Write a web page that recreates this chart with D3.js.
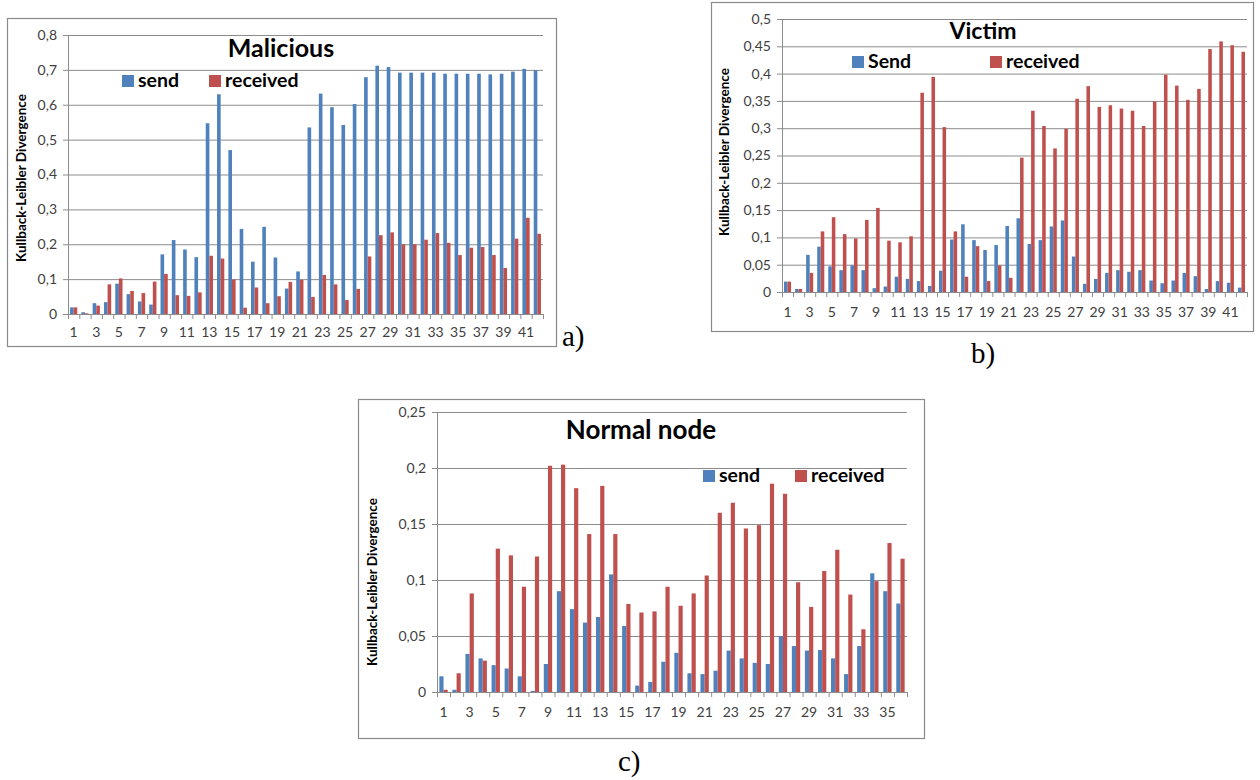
<!DOCTYPE html>
<html>
<head>
<meta charset="utf-8">
<script src="https://cdn.jsdelivr.net/npm/d3@7"></script>
<style>
  body { margin: 0; background: #fff; }
  text { font-family: Lato, "Open Sans", sans-serif; }
  .tick text { fill: #404040; font-size: 14px; }
  .tag { font-family: "Liberation Serif", "DejaVu Serif", serif; font-size: 29px; fill: #000; }
</style>
</head>
<body>
<svg id="fig" width="1260" height="780"></svg>
<script>
// values, one entry per time step
var malSend = [0.019,0.005,0.031,0.034,0.087,0.057,0.036,0.027,0.171,0.212,
               0.185,0.163,0.547,0.630,0.470,0.244,0.150,0.250,0.162,0.073,
               0.122,0.535,0.632,0.593,0.542,0.602,0.679,0.712,0.708,0.692,
               0.692,0.692,0.692,0.689,0.689,0.689,0.689,0.687,0.689,0.695,
               0.703,0.699];
var malRecv = [0.019,0.002,0.024,0.085,0.102,0.066,0.060,0.093,0.115,0.054,
               0.052,0.062,0.167,0.159,0.099,0.018,0.076,0.031,0.051,0.092,
               0.098,0.049,0.112,0.085,0.040,0.072,0.165,0.226,0.234,0.200,
               0.200,0.213,0.232,0.204,0.169,0.190,0.192,0.169,0.132,0.216,
               0.276,0.230];

var vicSend = [0.019,0.0055,0.068,0.083,0.047,0.040,0.049,0.040,0.007,0.010,
               0.028,0.024,0.020,0.011,0.039,0.096,0.124,0.095,0.077,0.086,
               0.121,0.135,0.088,0.095,0.120,0.131,0.065,0.015,0.024,0.035,
               0.040,0.037,0.040,0.021,0.016,0.021,0.035,0.029,0.0055,0.020,
               0.017,0.008];
var vicRecv = [0.019,0.0055,0.035,0.111,0.137,0.106,0.098,0.132,0.154,0.094,
               0.091,0.102,0.365,0.394,0.302,0.111,0.028,0.084,0.020,0.049,
               0.026,0.246,0.332,0.304,0.263,0.299,0.354,0.377,0.339,0.342,
               0.336,0.332,0.304,0.349,0.398,0.378,0.352,0.372,0.445,0.459,
               0.452,0.440];

var normSend = [0.014,0.002,0.034,0.030,0.024,0.021,0.014,0.001,0.025,0.090,
                0.074,0.062,0.067,0.105,0.059,0.0057,0.009,0.027,0.035,0.0167,
                0.016,0.019,0.037,0.030,0.026,0.025,0.050,0.041,0.037,0.0375,
                0.030,0.016,0.041,0.106,0.090,0.079];
var normRecv = [0.002,0.0167,0.088,0.028,0.128,0.122,0.094,0.121,0.202,0.203,
                0.182,0.141,0.184,0.141,0.0786,0.071,0.072,0.094,0.077,0.088,
                0.104,0.160,0.169,0.146,0.149,0.186,0.177,0.098,0.076,0.108,
                0.127,0.087,0.056,0.099,0.133,0.119];

var malTicks  = [0, 0.1, 0.2, 0.3, 0.4, 0.5, 0.6, 0.7, 0.8];
var vicTicks  = [0, 0.05, 0.1, 0.15, 0.2, 0.25, 0.3, 0.35, 0.4, 0.45, 0.5];
var normTicks = [0, 0.05, 0.1, 0.15, 0.2, 0.25];

var seriesKeys = ["send", "received"];
var colors = {send: "#4F81BD", received: "#C0504D"};
var yTitle = "Kullback-Leibler Divergence";

var svg = d3.select("#fig");
svg.append("rect").attr("width", 1260).attr("height", 780).attr("fill", "#fff");

var fmt = d3.formatLocale({decimal: ",", thousands: ".", grouping: [3], currency: ["", ""]}).format("~g");

function drawChart(c) {
  var g = svg.append("g");

  g.append("rect")
    .attr("x", c.box[0] + 0.5).attr("y", c.box[1] + 0.5)
    .attr("width", c.box[2]).attr("height", c.box[3])
    .attr("fill", "#fff").attr("stroke", "#8a8a8a").attr("stroke-width", 1.2);

  var n = c.send.length;
  var cats = d3.range(1, n + 1);
  var x = d3.scaleBand().domain(cats).range([c.left, c.right])
    .paddingInner(0.36).paddingOuter(0.18);
  var xs = d3.scaleBand().domain(seriesKeys).range([0, x.bandwidth()]);
  var xb = d3.scaleLinear().domain([0, n]).range([c.left, c.right]);
  var y = d3.scaleLinear().domain([0, c.max]).range([c.bottom, c.top]);

  // horizontal grid
  var grid = g.append("g")
    .attr("transform", "translate(" + c.left + ",0)")
    .call(d3.axisLeft(y).tickValues(c.ticks).tickSize(-(c.right - c.left)).tickFormat(""));
  grid.select(".domain").remove();
  grid.selectAll("line").attr("stroke", "#8c8c8c");

  // y axis
  var ya = g.append("g")
    .attr("transform", "translate(" + c.left + ",0)")
    .call(d3.axisLeft(y).tickValues(c.ticks).tickSize(5).tickPadding(6).tickFormat(fmt));
  ya.selectAll("line, .domain").attr("stroke", "#8c8c8c");

  // bars
  var rows = cats.map(function(k, i) { return {cat: k, send: c.send[i], received: c.recv[i]}; });
  g.append("g").selectAll("g")
    .data(rows)
    .enter().append("g")
    .attr("transform", function(d) { return "translate(" + x(d.cat) + ",0)"; })
    .selectAll("rect")
    .data(function(d) { return seriesKeys.map(function(k) { return {key: k, value: d[k]}; }); })
    .enter().append("rect")
    .attr("x", function(d) { return xs(d.key); })
    .attr("width", xs.bandwidth())
    .attr("y", function(d) { return y(d.value); })
    .attr("height", function(d) { return c.bottom - y(d.value); })
    .attr("fill", function(d) { return colors[d.key]; });

  // x axis: ticks between categories, labels on odd categories
  var xa = g.append("g")
    .attr("transform", "translate(0," + c.bottom + ")")
    .call(d3.axisBottom(xb).tickValues(d3.range(0, n + 1)).tickSize(5).tickFormat(""));
  xa.selectAll("line, .domain").attr("stroke", "#8c8c8c");

  var xl = g.append("g")
    .attr("transform", "translate(0," + c.bottom + ")")
    .call(d3.axisBottom(x).tickValues(cats.filter(function(k) { return k % 2 == 1; })).tickSize(0).tickPadding(c.xPad));
  xl.select(".domain").remove();

  // title
  g.append("text")
    .attr("x", c.titleX).attr("y", c.titleY)
    .attr("text-anchor", "middle")
    .style("font-size", c.titleSize + "px").style("font-weight", "bold")
    .text(c.title);

  // legend
  var lg = g.append("g").attr("transform", "translate(" + c.legX + "," + c.legY + ")");
  var labels = [c.sendLabel, "received"];
  seriesKeys.forEach(function(k, i) {
    var dx = i * c.legGap;
    lg.append("rect").attr("x", dx).attr("y", -12).attr("width", 12).attr("height", 12)
      .attr("fill", colors[k]);
    lg.append("text").attr("x", dx + 16).attr("y", 0)
      .style("font-size", "19.5px").style("font-weight", "bold")
      .text(labels[i]);
  });

  // y title
  g.append("text")
    .attr("transform", "translate(" + c.yTitleX + "," + c.yTitleY + ") rotate(-90)")
    .attr("text-anchor", "middle")
    .style("font-size", "13.5px").style("font-weight", "bold")
    .text(yTitle);

  // sub-figure tag
  g.append("text").attr("class", "tag")
    .attr("x", c.tagX).attr("y", c.tagY)
    .text(c.tag);
}

drawChart({
  box: [7, 18, 549, 328], left: 68, right: 543, top: 35, bottom: 314,
  max: 0.8, ticks: malTicks, send: malSend, recv: malRecv, xPad: 13,
  title: "Malicious", titleX: 281, titleY: 57, titleSize: 25,
  sendLabel: "send", legX: 122, legY: 87, legGap: 87,
  yTitleX: 26, yTitleY: 178, tag: "a)", tagX: 562, tagY: 346
});

drawChart({
  box: [711, 2, 542, 329], left: 782, right: 1247, top: 19, bottom: 292,
  max: 0.5, ticks: vicTicks, send: vicSend, recv: vicRecv, xPad: 15,
  title: "Victim", titleX: 983, titleY: 39, titleSize: 23,
  sendLabel: "Send", legX: 852, legY: 68, legGap: 138,
  yTitleX: 729, yTitleY: 152, tag: "b)", tagX: 971, tagY: 363
});

drawChart({
  box: [358, 399, 566, 339], left: 437, right: 907, top: 412, bottom: 692,
  max: 0.25, ticks: normTicks, send: normSend, recv: normRecv, xPad: 15,
  title: "Normal node", titleX: 641, titleY: 439, titleSize: 26,
  sendLabel: "send", legX: 703, legY: 482, legGap: 92,
  yTitleX: 377, yTitleY: 582, tag: "c)", tagX: 618, tagY: 771
});
</script>
</body>
</html>
